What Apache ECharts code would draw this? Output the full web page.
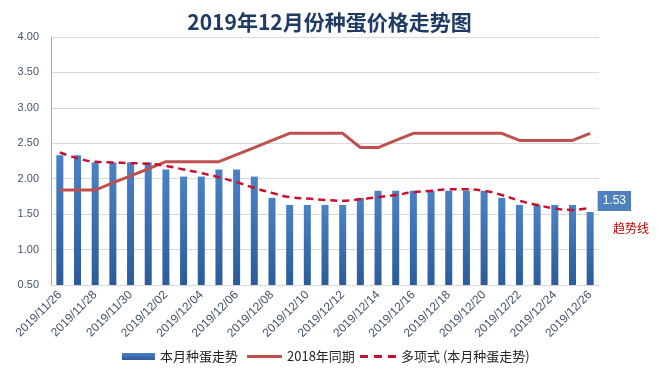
<!DOCTYPE html>
<html><head><meta charset="utf-8">
<script src="https://cdn.jsdelivr.net/npm/echarts@6/dist/echarts.min.js"></script>
<style>html,body{margin:0;padding:0;background:#fff}#c{width:659px;height:388px}</style>
</head><body><div id="c"></div>
<script>
const categories = ['2019/11/26','2019/11/27','2019/11/28','2019/11/29','2019/11/30','2019/12/01','2019/12/02','2019/12/03','2019/12/04','2019/12/05','2019/12/06','2019/12/07','2019/12/08','2019/12/09','2019/12/10','2019/12/11','2019/12/12','2019/12/13','2019/12/14','2019/12/15','2019/12/16','2019/12/17','2019/12/18','2019/12/19','2019/12/20','2019/12/21','2019/12/22','2019/12/23','2019/12/24','2019/12/25','2019/12/26'];
const thisMonth = [2.33,2.33,2.23,2.23,2.23,2.23,2.13,2.03,2.03,2.13,2.13,2.03,1.73,1.63,1.63,1.63,1.63,1.73,1.83,1.83,1.83,1.83,1.83,1.83,1.83,1.73,1.63,1.63,1.63,1.63,1.53];
const lastYear = [1.84,1.84,1.84,1.94,2.04,2.14,2.24,2.24,2.24,2.24,2.34,2.44,2.54,2.64,2.64,2.64,2.64,2.44,2.44,2.54,2.64,2.64,2.64,2.64,2.64,2.64,2.54,2.54,2.54,2.54,2.64];
const trend = [2.37,2.29,2.24,2.23,2.22,2.21,2.18,2.13,2.08,2.02,1.95,1.87,1.80,1.74,1.72,1.70,1.69,1.71,1.74,1.77,1.81,1.83,1.85,1.85,1.83,1.77,1.69,1.63,1.58,1.56,1.59];
const yTicks = {min:0.5, max:4, interval:0.5};
const seriesNames = ['本月种蛋走势','2018年同期','多项式 (本月种蛋走势)'];

const chart = echarts.init(document.getElementById('c'));
const barData = thisMonth.map((v,i)=> i===thisMonth.length-1 ? {value:v,label:{show:true,position:[11,-21],formatter:p=>p.value.toFixed(2),backgroundColor:'#4F81BD',color:'#fff',fontSize:12,padding:[4,5,4,5],fontFamily:'Liberation Sans'}} : v);
const legText = {fontFamily:'Noto Sans CJK SC',fontSize:13,color:'#262626'};
chart.setOption({
  animation:false,
  backgroundColor:'#fff',
  title:{text:'2019年12月份种蛋价格走势图',left:'center',top:7,textStyle:{fontFamily:'Noto Sans CJK SC',fontWeight:'bold',fontSize:21,color:'#1F3B63'}},
  grid:{left:51,right:60,top:37,bottom:103},
  legend:[
    {left:117,bottom:20,itemWidth:33,itemHeight:7,textStyle:legText,data:[{name:seriesNames[0],icon:'rect'}]},
    {left:242,bottom:20,itemWidth:35,itemHeight:3,textStyle:legText,data:[{name:seriesNames[1],icon:'path://M0,0h35v3h-35z'}]},
    {left:355,bottom:20,itemWidth:36,itemHeight:3,textStyle:legText,data:[{name:seriesNames[2],icon:'path://M0,0h8v3h-8z M14,0h8v3h-8z M28,0h8v3h-8z'}]}
  ],
  xAxis:{type:'category',data:categories,boundaryGap:true,
    axisLine:{lineStyle:{color:'#D9D9D9'}},axisTick:{show:false},
    axisLabel:{interval:1,rotate:45,fontSize:12,color:'#44546A',fontFamily:'Liberation Sans',margin:8}},
  yAxis:{type:'value',min:yTicks.min,max:yTicks.max,interval:yTicks.interval,
    axisLine:{show:true,lineStyle:{color:'#A6A6A6'}},axisTick:{show:false},
    splitLine:{lineStyle:{color:'#D9D9D9'}},
    axisLabel:{formatter:v=>v.toFixed(2),fontSize:11,color:'#44546A',fontFamily:'Liberation Sans',margin:12}},
  series:[
    {name:seriesNames[0],type:'bar',data:barData,barWidth:7,
      itemStyle:{color:new echarts.graphic.LinearGradient(0,0,0,1,[{offset:0,color:'#4A82C6'},{offset:1,color:'#2C5B9A'}])}},
    {name:seriesNames[1],type:'line',data:lastYear,symbol:'none',lineStyle:{color:'#C0504D',width:3},itemStyle:{color:'#C0504D'}},
    {name:seriesNames[2],type:'line',data:trend,symbol:'none',smooth:true,lineStyle:{color:'#C8102E',width:2.5,type:[7,5]},itemStyle:{color:'#C8102E'}}
  ],
  graphic:[{type:'text',left:613,top:222,style:{text:'趋势线',fill:'#C00000',font:'12px "Noto Sans CJK SC"'}}]
});
</script></body></html>
